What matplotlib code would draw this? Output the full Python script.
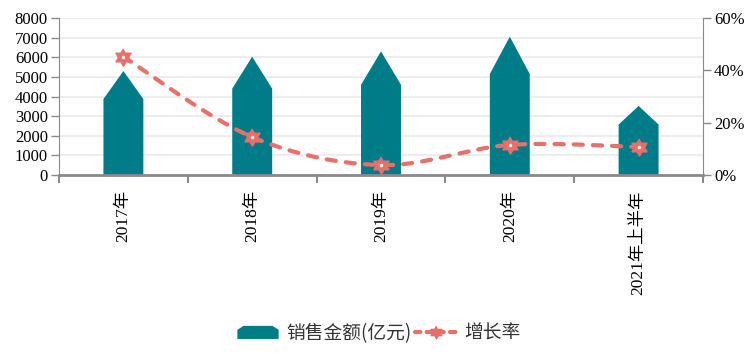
import numpy as np
import matplotlib
matplotlib.use("Agg")
import matplotlib.pyplot as plt
from matplotlib.patches import Polygon, Patch
from matplotlib.lines import Line2D
from matplotlib.path import Path
from matplotlib.legend_handler import HandlerPatch
from matplotlib.ticker import FixedLocator, FuncFormatter

plt.rcParams['font.family'] = ['Liberation Serif', 'Noto Sans CJK SC', 'DejaVu Sans']

# donnees
categories = ["2017年", "2018年", "2019年", "2020年", "2021年上半年"]
ventes = [5300, 6030, 6300, 7050, 3520]          # 销售金额(亿元)
croissance = [45.2, 14.5, 3.8, 11.5, 10.7]        # 增长率 (%)

teal = "#007C89"
rouge = "#E8706A"
gris = "#8A8A8A"

fig = plt.figure(figsize=(7.53, 3.54), dpi=100)
ax = fig.add_axes([59/753, (354-175)/354, (703-59)/753, (175-18)/354])
ax2 = ax.twinx()

x = np.arange(len(categories))
demi = 0.155
epaule = 0.73

# barres en forme de fleche
for xi, v in zip(x, ventes):
    pts = [(xi-demi, 0), (xi-demi, v*epaule), (xi, v), (xi+demi, v*epaule), (xi+demi, 0)]
    ax.add_patch(Polygon(pts, closed=True, facecolor=teal, edgecolor="none", zorder=2))

ax.set_xlim(-0.5, len(categories)-0.5)
ax.set_ylim(0, 8000)
ax.set_yticks(np.arange(0, 8001, 1000))
ax.yaxis.grid(True, color="#EDEDED", linewidth=1.5, zorder=0)
ax.set_axisbelow(True)

ax.set_xticks(x)
ax.set_xticklabels(categories, rotation=90, fontsize=12.5)
ax.xaxis.set_minor_locator(FixedLocator(np.arange(-0.5, len(categories), 1)))
ax.tick_params(axis="x", which="major", length=0, pad=11)
ax.tick_params(axis="x", which="minor", length=6, width=1.5, color=gris)
ax.tick_params(axis="y", length=6, width=1, color=gris, labelsize=12, pad=2)

for s in ["top", "right"]:
    ax.spines[s].set_visible(False)
ax.spines["left"].set_color(gris)
ax.spines["bottom"].set_color(gris)
ax.spines["bottom"].set_linewidth(2)

# axe de droite
ax2.set_ylim(0, 60)
ax2.set_yticks([0, 20, 40, 60])
ax2.yaxis.set_major_formatter(FuncFormatter(lambda v, p: "%d%%" % v))
ax2.tick_params(axis="y", length=6, width=1, color=gris, labelsize=12, pad=2)
for s in ["top", "left", "bottom"]:
    ax2.spines[s].set_visible(False)
ax2.spines["right"].set_color(gris)

# courbe lissee (catmull-rom)
P = np.column_stack([x, croissance]).astype(float)
Pe = np.vstack([P[0], P, P[-1]])
cx, cy = [], []
t = np.linspace(0, 1, 40)
for i in range(len(P)-1):
    p0, p1, p2, p3 = Pe[i], Pe[i+1], Pe[i+2], Pe[i+3]
    c1 = p1 + (p2 - p0)/6
    c2 = p2 - (p3 - p1)/6
    b = ((1-t)**3)[:, None]*p1 + (3*(1-t)**2*t)[:, None]*c1 + (3*(1-t)*t**2)[:, None]*c2 + (t**3)[:, None]*p2
    cx.extend(b[:, 0]); cy.extend(b[:, 1])
ax2.plot(cx, cy, color=rouge, linewidth=3, linestyle=(0, (2.2, 2.4)),
         dash_capstyle="round", zorder=3)

# marqueur etoile a six branches
ang = np.deg2rad(90 + 30*np.arange(12))
rad = np.where(np.arange(12) % 2 == 0, 1.0, 1/np.sqrt(3))
hexa = Path(np.column_stack([rad*np.cos(ang), rad*np.sin(ang)]))
ax2.plot(x, croissance, linestyle="none", marker=hexa, markersize=12.5,
         color=rouge, zorder=4)
ax2.plot(x, croissance, linestyle="none", marker="o", markersize=2.5,
         color="white", markeredgewidth=0, zorder=5)

# legende
def fleche(legend, orig_handle, xdescent, ydescent, width, height, fontsize):
    h = height
    pts = [(-xdescent, -ydescent), (-xdescent, -ydescent + h*0.7),
           (-xdescent + width*0.15, -ydescent + h*1.0),
           (-xdescent + width*0.85, -ydescent + h*1.0),
           (-xdescent + width, -ydescent + h*0.7), (-xdescent + width, -ydescent)]
    return Polygon(pts, closed=True)

h_barre = Patch(facecolor=teal, edgecolor="none")
h_ligne = Line2D([], [], color=rouge, linewidth=3, linestyle=(0, (1.3, 1.5)),
                 marker=hexa, markersize=9, dash_capstyle="round")
fig.legend([h_barre, h_ligne], ["销售金额(亿元)", "增长率"], loc="center",
           bbox_to_anchor=(0.503, 0.058), ncol=2, frameon=False,
           prop={"family": ["Noto Sans CJK SC"], "size": 13.5},
           handlelength=2.2, handletextpad=0.4, columnspacing=0.2,
           labelcolor="#333333",
           handler_map={Patch: HandlerPatch(patch_func=fleche)})

fig.savefig("out.png", dpi=100)
